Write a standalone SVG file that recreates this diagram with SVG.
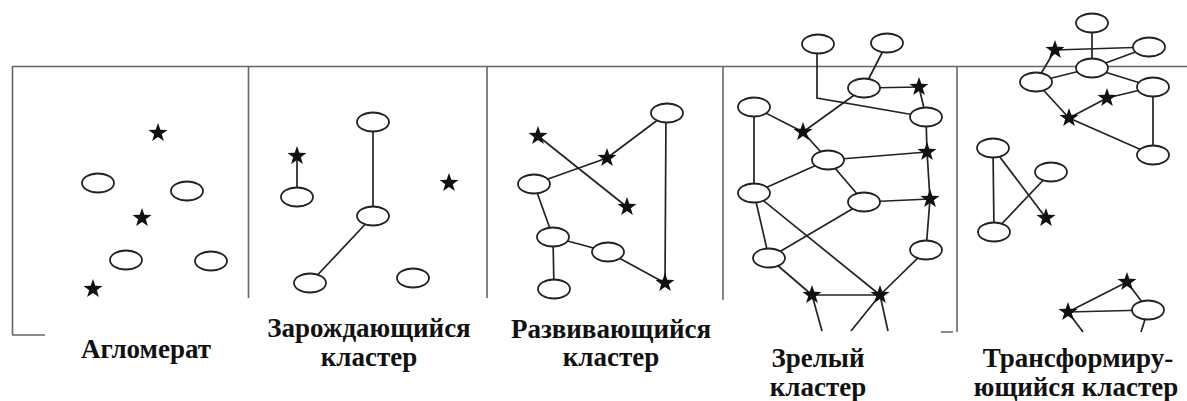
<svg xmlns="http://www.w3.org/2000/svg" width="1187" height="401" viewBox="0 0 1187 401">
<style>
.fr{stroke:#666;stroke-width:1.6;fill:none}
.c{stroke:#222;stroke-width:1.7;fill:none}
.n{fill:#fff;stroke:#222;stroke-width:1.8}
.s{fill:#111}
.t{font-family:'Liberation Serif','DejaVu Serif',serif;font-weight:700;font-size:27px;fill:#111;text-anchor:middle}
</style>
<defs>
<path id="star" d="M0,-10 L2.35,-3.24 L9.51,-3.09 L3.8,1.24 L5.88,8.09 L0,4 L-5.88,8.09 L-3.8,1.24 L-9.51,-3.09 L-2.35,-3.24 Z"/>
</defs>
<rect width="1187" height="401" fill="#fff"/>
<g id="frame">
<path class="fr" d="M12,66.5 H1187 M12.5,66 V335 M12,335 H45 M248.5,66 V298 M487,66 V298 M723,66 V300 M957,66 V332 M941,332 H953"/>
</g>
<g id="connectors" class="c">
<line x1="297" y1="156" x2="297" y2="197"/>
<line x1="373" y1="122" x2="373" y2="216"/>
<line x1="373" y1="216" x2="310" y2="283"/>
<line x1="538" y1="136" x2="627" y2="207"/>
<line x1="534" y1="184" x2="607" y2="158"/>
<line x1="607" y1="158" x2="667" y2="113"/>
<line x1="666" y1="113" x2="665" y2="283"/>
<line x1="534" y1="184" x2="553" y2="237"/>
<line x1="553" y1="237" x2="608" y2="252"/>
<line x1="608" y1="252" x2="665" y2="283"/>
<line x1="553" y1="237" x2="554" y2="289"/>
<polyline points="817,44 817,98 926,117"/>
<line x1="887" y1="43" x2="864" y2="88"/>
<line x1="864" y1="88" x2="919" y2="87"/>
<line x1="919" y1="87" x2="926" y2="117"/>
<line x1="864" y1="88" x2="803" y2="132"/>
<line x1="754" y1="107" x2="803" y2="132"/>
<line x1="803" y1="132" x2="828" y2="160"/>
<line x1="754" y1="107" x2="754" y2="193"/>
<line x1="926" y1="117" x2="927" y2="152"/>
<line x1="828" y1="160" x2="927" y2="152"/>
<line x1="927" y1="152" x2="930" y2="199"/>
<line x1="828" y1="160" x2="754" y2="193"/>
<line x1="828" y1="160" x2="864" y2="202"/>
<line x1="864" y1="202" x2="930" y2="199"/>
<line x1="930" y1="199" x2="926" y2="250"/>
<line x1="754" y1="193" x2="769" y2="258"/>
<line x1="754" y1="193" x2="880" y2="295"/>
<line x1="864" y1="202" x2="769" y2="258"/>
<line x1="769" y1="258" x2="812" y2="295"/>
<line x1="812" y1="295" x2="880" y2="295"/>
<line x1="926" y1="250" x2="880" y2="295"/>
<line x1="812" y1="295" x2="822" y2="331"/>
<line x1="880" y1="295" x2="851" y2="331"/>
<line x1="880" y1="295" x2="888" y2="331"/>
<line x1="1092" y1="23" x2="1092" y2="68"/>
<line x1="1055" y1="50" x2="1149" y2="47"/>
<line x1="1055" y1="50" x2="1036" y2="82"/>
<line x1="1036" y1="82" x2="1092" y2="68"/>
<line x1="1092" y1="68" x2="1149" y2="47"/>
<line x1="1092" y1="68" x2="1153" y2="87"/>
<line x1="1036" y1="82" x2="1069" y2="118"/>
<line x1="1069" y1="118" x2="1107" y2="98"/>
<line x1="1107" y1="98" x2="1153" y2="87"/>
<line x1="1069" y1="118" x2="1153" y2="155"/>
<line x1="1153" y1="87" x2="1153" y2="155"/>
<line x1="993" y1="148" x2="994" y2="232"/>
<line x1="993" y1="148" x2="1046" y2="218"/>
<line x1="994" y1="232" x2="1051" y2="172"/>
<line x1="1068" y1="312" x2="1127" y2="282"/>
<line x1="1127" y1="282" x2="1148" y2="310"/>
<line x1="1068" y1="312" x2="1148" y2="310"/>
<line x1="1068" y1="312" x2="1083" y2="332"/>
<line x1="1148" y1="310" x2="1141" y2="332"/>
</g>
<g id="p1-s1"><use href="#star" class="s" x="158" y="133"/></g>
<g id="p1-e1"><ellipse class="n" cx="98" cy="183" rx="16" ry="9.5"/></g>
<g id="p1-e2"><ellipse class="n" cx="187" cy="191" rx="16" ry="9.5"/></g>
<g id="p1-s2"><use href="#star" class="s" x="142" y="218"/></g>
<g id="p1-e3"><ellipse class="n" cx="126" cy="260" rx="16" ry="9.5"/></g>
<g id="p1-e4"><ellipse class="n" cx="211" cy="261" rx="16" ry="9.5"/></g>
<g id="p1-s3"><use href="#star" class="s" x="93" y="289"/></g>
<g id="p2-e1"><ellipse class="n" cx="373" cy="122" rx="16" ry="9.5"/></g>
<g id="p2-s1"><use href="#star" class="s" x="297" y="156"/></g>
<g id="p2-e2"><ellipse class="n" cx="297" cy="197" rx="16" ry="9.5"/></g>
<g id="p2-s2"><use href="#star" class="s" x="449" y="183"/></g>
<g id="p2-e3"><ellipse class="n" cx="373" cy="216" rx="16" ry="9.5"/></g>
<g id="p2-e4"><ellipse class="n" cx="310" cy="283" rx="16" ry="9.5"/></g>
<g id="p2-e5"><ellipse class="n" cx="413" cy="278" rx="16" ry="9.5"/></g>
<g id="p3-e1"><ellipse class="n" cx="667" cy="113" rx="16" ry="9.5"/></g>
<g id="p3-s1"><use href="#star" class="s" x="538" y="136"/></g>
<g id="p3-s2"><use href="#star" class="s" x="607" y="158"/></g>
<g id="p3-e2"><ellipse class="n" cx="534" cy="184" rx="16" ry="9.5"/></g>
<g id="p3-s3"><use href="#star" class="s" x="627" y="207"/></g>
<g id="p3-e3"><ellipse class="n" cx="553" cy="237" rx="16" ry="9.5"/></g>
<g id="p3-e4"><ellipse class="n" cx="608" cy="252" rx="16" ry="9.5"/></g>
<g id="p3-s4"><use href="#star" class="s" x="665" y="283"/></g>
<g id="p3-e5"><ellipse class="n" cx="554" cy="289" rx="16" ry="9.5"/></g>
<g id="p4-e1"><ellipse class="n" cx="818" cy="44" rx="16" ry="9.5"/></g>
<g id="p4-e2"><ellipse class="n" cx="887" cy="43" rx="16" ry="9.5"/></g>
<g id="p4-e3"><ellipse class="n" cx="864" cy="88" rx="16" ry="9.5"/></g>
<g id="p4-s1"><use href="#star" class="s" x="919" y="87"/></g>
<g id="p4-e4"><ellipse class="n" cx="754" cy="107" rx="16" ry="9.5"/></g>
<g id="p4-e5"><ellipse class="n" cx="926" cy="117" rx="16" ry="9.5"/></g>
<g id="p4-s2"><use href="#star" class="s" x="803" y="132"/></g>
<g id="p4-e6"><ellipse class="n" cx="828" cy="160" rx="16" ry="9.5"/></g>
<g id="p4-s3"><use href="#star" class="s" x="927" y="152"/></g>
<g id="p4-e7"><ellipse class="n" cx="754" cy="193" rx="16" ry="9.5"/></g>
<g id="p4-e8"><ellipse class="n" cx="864" cy="202" rx="16" ry="9.5"/></g>
<g id="p4-s4"><use href="#star" class="s" x="930" y="199"/></g>
<g id="p4-e9"><ellipse class="n" cx="769" cy="258" rx="16" ry="9.5"/></g>
<g id="p4-e10"><ellipse class="n" cx="926" cy="250" rx="16" ry="9.5"/></g>
<g id="p4-s5"><use href="#star" class="s" x="812" y="295"/></g>
<g id="p4-s6"><use href="#star" class="s" x="880" y="295"/></g>
<g id="p5-e1"><ellipse class="n" cx="1092" cy="23" rx="16" ry="9.5"/></g>
<g id="p5-s1"><use href="#star" class="s" x="1055" y="50"/></g>
<g id="p5-e2"><ellipse class="n" cx="1149" cy="47" rx="16" ry="9.5"/></g>
<g id="p5-e3"><ellipse class="n" cx="1092" cy="68" rx="16" ry="9.5"/></g>
<g id="p5-e4"><ellipse class="n" cx="1036" cy="82" rx="16" ry="9.5"/></g>
<g id="p5-e5"><ellipse class="n" cx="1153" cy="87" rx="16" ry="9.5"/></g>
<g id="p5-s2"><use href="#star" class="s" x="1107" y="98"/></g>
<g id="p5-s3"><use href="#star" class="s" x="1069" y="118"/></g>
<g id="p5-e6"><ellipse class="n" cx="993" cy="148" rx="16" ry="9.5"/></g>
<g id="p5-e7"><ellipse class="n" cx="1153" cy="155" rx="16" ry="9.5"/></g>
<g id="p5-e8"><ellipse class="n" cx="1051" cy="172" rx="16" ry="9.5"/></g>
<g id="p5-s4"><use href="#star" class="s" x="1046" y="218"/></g>
<g id="p5-e9"><ellipse class="n" cx="994" cy="232" rx="16" ry="9.5"/></g>
<g id="p5-s5"><use href="#star" class="s" x="1127" y="282"/></g>
<g id="p5-s6"><use href="#star" class="s" x="1068" y="312"/></g>
<g id="p5-e10"><ellipse class="n" cx="1148" cy="310" rx="16" ry="9.5"/></g>
<g id="labels" font-family="Liberation Serif, DejaVu Serif, serif">
<text class="t" x="146" y="358">Агломерат</text>
<text class="t" x="369" y="337">Зарождающийся</text>
<text class="t" x="369" y="366">кластер</text>
<text class="t" x="611" y="338">Развивающийся</text>
<text class="t" x="611" y="366">кластер</text>
<text class="t" x="818" y="367">Зрелый</text>
<text class="t" x="818" y="396">кластер</text>
<text class="t" x="1078" y="367">Трансформиру-</text>
<text class="t" x="1076" y="396">ющийся кластер</text>
</g>
</svg>
